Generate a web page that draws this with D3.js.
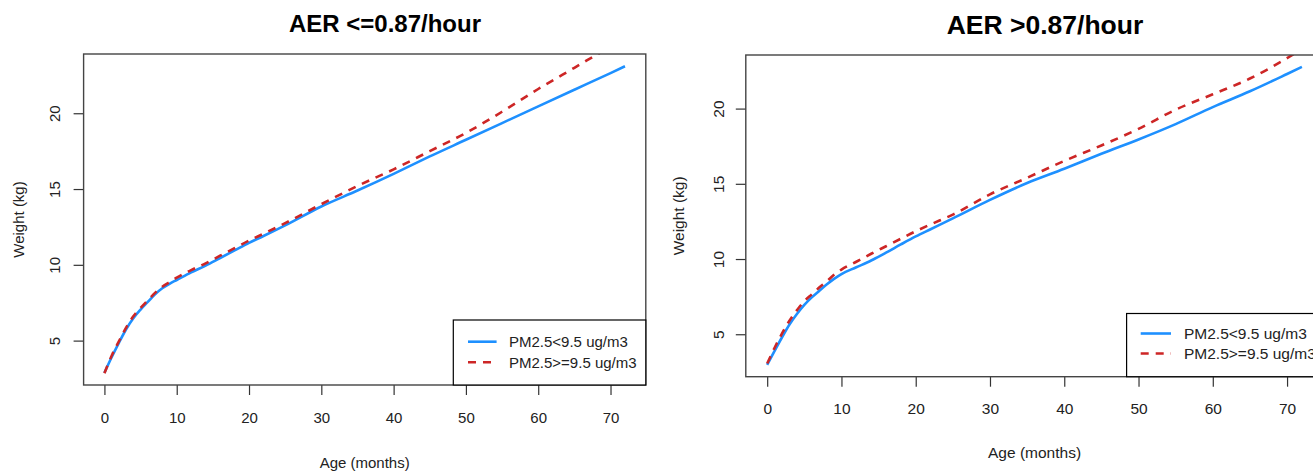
<!DOCTYPE html>
<html>
<head>
<meta charset="utf-8">
<script src="https://cdn.jsdelivr.net/npm/d3@7"></script>
<style>
  body { margin: 0; background: #fff; }
  svg text { font-family: "Liberation Sans", Arial, sans-serif; fill: #222; }
</style>
</head>
<body>
<svg id="chart" width="1313" height="475"></svg>
<script>
// data
const ages = [0, 1, 2, 3, 4, 5, 6, 7, 8, 9, 10, 12, 14, 16, 18, 20, 22, 25, 30, 35, 40, 45, 50, 55, 60, 65, 70, 72];

// AER <= 0.87/hour
const leftLow  = [2.88, 3.9, 4.85, 5.75, 6.48, 7.05, 7.55, 8.05, 8.45, 8.75, 9.0, 9.5, 9.95, 10.45, 10.95, 11.45, 11.9, 12.6, 13.85, 14.9, 16.0, 17.15, 18.25, 19.35, 20.45, 21.55, 22.65, 23.1];
const leftHigh = [2.85, 4.0, 4.95, 5.85, 6.6, 7.15, 7.65, 8.15, 8.55, 8.85, 9.15, 9.65, 10.1, 10.6, 11.1, 11.6, 12.05, 12.75, 14.0, 15.2, 16.3, 17.5, 18.7, 20.1, 21.6, 23.0, 24.4, 24.95];

// AER > 0.87/hour
const rightLow  = [2.97, 3.9, 4.8, 5.65, 6.35, 6.95, 7.45, 7.88, 8.3, 8.68, 9.0, 9.45, 9.9, 10.42, 10.97, 11.5, 11.98, 12.7, 13.93, 15.05, 16.0, 17.0, 17.95, 18.97, 20.1, 21.15, 22.3, 22.77];
const rightHigh = [3.05, 4.1, 5.05, 5.9, 6.6, 7.2, 7.65, 8.1, 8.5, 8.95, 9.3, 9.82, 10.35, 10.85, 11.35, 11.85, 12.3, 12.95, 14.3, 15.4, 16.52, 17.55, 18.65, 19.93, 20.95, 22.0, 23.35, 23.95];

const titles = ['AER <=0.87/hour', 'AER >0.87/hour'];
const xTicks = [0, 10, 20, 30, 40, 50, 60, 70];
const yTicks = [5, 10, 15, 20];
const seriesNames = ['PM2.5<9.5 ug/m3', 'PM2.5>=9.5 ug/m3'];
const xLabel = 'Age (months)';
const yLabel = 'Weight (kg)';

const BLUE = '#1e90ff';
const RED = '#cd2626';

const svg = d3.select('#chart');
svg.append('rect').attr('width', 1313).attr('height', 475).attr('fill', '#fff');

// layout for each panel (pixels)
const panels = [
  {id: 'l', low: leftLow, high: leftHigh, title: titles[0],
   x0: 83.6, x1: 645.8, y0: 54, y1: 385,
   titleX: 385, titleY: 31.5, titleSize: 24, font: 15,
   tickPad: 17.5, yTickOff: 29, yLabX: 19, xLabY: 468,
   leg: {x: 453.3, y: 320, w: 192.5, h: 65, lx0: 468, lx1: 496.6, r1: 341.7, r2: 362.3, tx: 509}},
  {id: 'r', low: rightLow, high: rightHigh, title: titles[1],
   x0: 745.8, x1: 1323.3, y0: 55, y1: 376.7,
   titleX: 1045, titleY: 33.5, titleSize: 26.5, font: 15.5,
   tickPad: 16.5, yTickOff: 27.5, yLabX: 678.7, xLabY: 457.5,
   leg: {x: 1126.6, y: 313.5, w: 196.7, h: 63.2, lx0: 1140.7, lx1: 1171, r1: 333.5, r2: 353.5, tx: 1184}}
];

const drawPanel = (p) => {
  // R style: 4% padding on x, y range from the first series
  const xr = d3.extent(ages);
  const xpad = (xr[1] - xr[0]) * 0.04;
  const x = d3.scaleLinear().domain([xr[0] - xpad, xr[1] + xpad]).range([p.x0, p.x1]);
  const yr = d3.extent(p.low);
  const ypad = (yr[1] - yr[0]) * 0.04;
  const y = d3.scaleLinear().domain([yr[0] - ypad, yr[1] + ypad]).range([p.y1, p.y0]);

  const g = svg.append('g');

  // title
  g.append('text')
    .attr('x', p.titleX).attr('y', p.titleY)
    .attr('text-anchor', 'middle')
    .style('font-size', p.titleSize + 'px')
    .style('font-weight', 'bold')
    .style('fill', '#000')
    .text(p.title);

  // clip to plot region
  svg.append('clipPath').attr('id', 'clip-' + p.id)
    .append('rect')
      .attr('x', p.x0).attr('y', p.y0)
      .attr('width', p.x1 - p.x0).attr('height', p.y1 - p.y0);

  const line = (vals) => d3.line()
    .x((d, i) => x(ages[i]))
    .y(d => y(d))
    .curve(d3.curveMonotoneX)(vals);

  const lines = g.append('g').attr('clip-path', `url(#clip-${p.id})`);
  lines.append('path')
    .attr('d', line(p.low))
    .attr('fill', 'none')
    .attr('stroke', BLUE)
    .attr('stroke-width', 2.6);
  lines.append('path')
    .attr('d', line(p.high))
    .attr('fill', 'none')
    .attr('stroke', RED)
    .attr('stroke-width', 2.6)
    .attr('stroke-dasharray', '8,7');

  // axes
  const xAxis = d3.axisBottom(x).tickValues(xTicks).tickSize(10).tickSizeOuter(0).tickPadding(p.tickPad);
  const xg = g.append('g')
    .attr('transform', `translate(0, ${p.y1})`)
    .call(xAxis);
  xg.select('.domain').remove();
  xg.selectAll('line').attr('stroke', '#333').attr('stroke-width', 1.2);
  xg.selectAll('text').style('font-size', p.font + 'px').style('font-family', '"Liberation Sans", Arial, sans-serif').attr('fill', '#222');

  const yAxis = d3.axisLeft(y).tickValues(yTicks).tickSize(10).tickSizeOuter(0);
  const yg = g.append('g')
    .attr('transform', `translate(${p.x0}, 0)`)
    .call(yAxis);
  yg.select('.domain').remove();
  yg.selectAll('line').attr('stroke', '#333').attr('stroke-width', 1.2);
  yg.selectAll('text')
    .attr('x', null).attr('y', null)
    .attr('dy', '0.36em')
    .attr('text-anchor', 'middle')
    .attr('transform', `translate(${-p.yTickOff}, 0) rotate(-90)`)
    .style('font-size', p.font + 'px')
    .style('font-family', '"Liberation Sans", Arial, sans-serif')
    .attr('fill', '#222');

  // box
  g.append('rect')
    .attr('x', p.x0).attr('y', p.y0)
    .attr('width', p.x1 - p.x0).attr('height', p.y1 - p.y0)
    .attr('fill', 'none')
    .attr('stroke', '#444')
    .attr('stroke-width', 1.4);

  // axis titles
  g.append('text')
    .attr('x', (p.x0 + p.x1) / 2).attr('y', p.xLabY)
    .attr('text-anchor', 'middle')
    .style('font-size', p.font + 'px')
    .text(xLabel);
  g.append('text')
    .attr('transform', `translate(${p.yLabX}, ${(p.y0 + p.y1) / 2}) rotate(-90)`)
    .attr('dy', '0.36em')
    .attr('text-anchor', 'middle')
    .style('font-size', p.font + 'px')
    .text(yLabel);

  // legend
  const L = p.leg;
  const lg = g.append('g');
  lg.append('rect')
    .attr('x', L.x).attr('y', L.y).attr('width', L.w).attr('height', L.h)
    .attr('fill', '#fff').attr('stroke', '#000').attr('stroke-width', 1.2);
  const colorScale = d3.scaleOrdinal().domain(seriesNames).range([BLUE, RED]);
  const rows = [L.r1, L.r2];
  seriesNames.forEach((name, i) => {
    lg.append('line')
      .attr('x1', L.lx0).attr('x2', L.lx1)
      .attr('y1', rows[i]).attr('y2', rows[i])
      .attr('stroke', colorScale(name))
      .attr('stroke-width', 2.6)
      .attr('stroke-dasharray', i === 1 ? '8,7' : null);
    lg.append('text')
      .attr('x', L.tx).attr('y', rows[i])
      .attr('dy', '0.36em')
      .style('font-size', p.font + 'px')
      .text(name);
  });
};

panels.forEach(drawPanel);
</script>
</body>
</html>
